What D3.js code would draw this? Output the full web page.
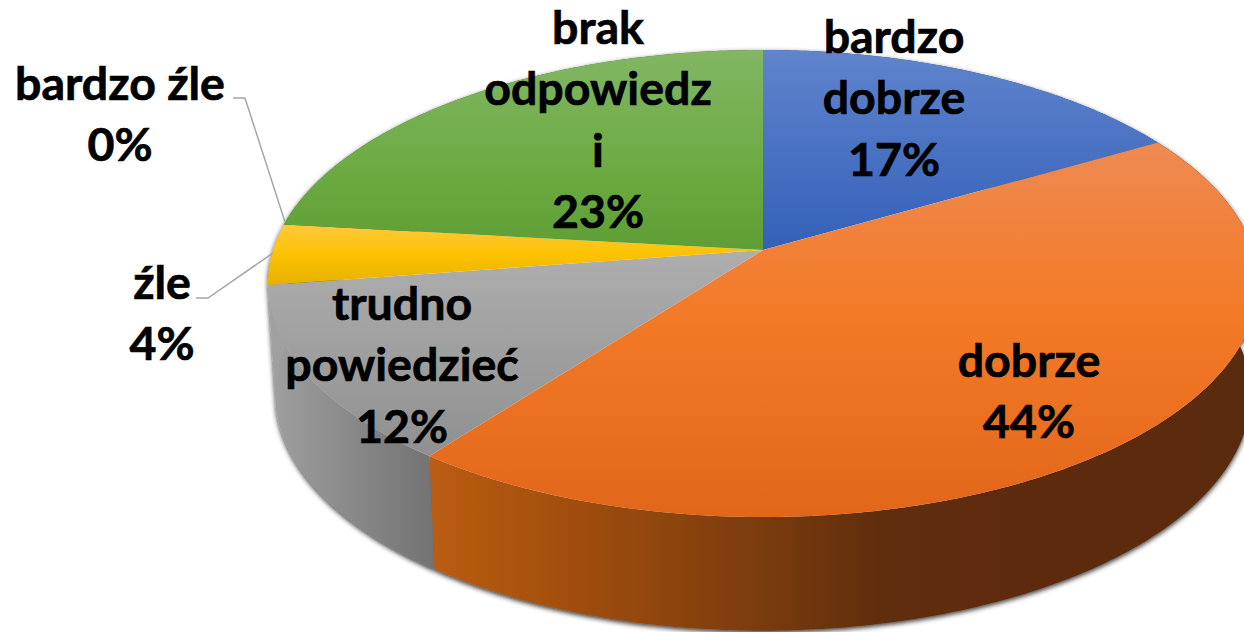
<!DOCTYPE html>
<html><head><meta charset="utf-8">
<style>html,body{margin:0;padding:0;background:#fff;overflow:hidden}svg{display:block}
text{font-family:Lato,"Open Sans",sans-serif;font-weight:700;fill:#000;stroke:#000;stroke-width:.7px;font-size:46.5px;text-anchor:middle}</style>
<script src="https://cdn.jsdelivr.net/npm/d3@7/dist/d3.min.js"></script></head><body>
<script>
const categories = ["bardzo dobrze","dobrze","trudno powiedzieć","źle","bardzo źle","brak odpowiedzi"];
const values = [16.6,43.7,12.3,4.2,0,23.2];
const labelLines = [["bardzo","dobrze"],["dobrze"],["trudno","powiedzieć"],["źle"],["bardzo źle"],["brak","odpowiedz","i"]];

// styling and layout (kept apart from the data)
const topStops = [
 [[0,"#6084cd"],[1,"#3360b9"]],
 [[0,"#ee8a52"],[.45,"#f47a27"],[1,"#e2661a"]],
 [[0,"#aeaeae"],[1,"#909090"]],
 [[0,"#ffc83d"],[.5,"#fdc300"],[1,"#e6b000"]],
 [[0,"#a5a5a5"],[1,"#a5a5a5"]],
 [[0,"#82b663"],[.6,"#6cab42"],[1,"#5f9e34"]]];
const wallStops = [
 [[0,"#2a4a85"],[1,"#2a4a85"]],
 [[0,"#bb5c12"],[.3,"#8c4410"],[.55,"#5f2d0c"],[1,"#5a2a0b"]],
 [[0,"#a0a0a0"],[1,"#727272"]],
 [[0,"#a0a0a0"],[1,"#a0a0a0"]],
 [[0,"#777"],[1,"#777"]],
 [[0,"#3f6a23"],[1,"#3f6a23"]]];
const labelPos = [[894,53],[1029,377],[402,320],[162,299],[120,100],[598,44]];
const leaders = [[[196,298],[208,298],[273,253]],[[233,98],[245,98],[285,222]]];

const W=1244,H=632;
const svg=d3.select("body").append("svg").attr("width",W).attr("height",H).attr("viewBox",[0,0,W,H]);
const defs=svg.append("defs");
const f=defs.append("filter").attr("id","sh").attr("x","-5%").attr("y","-5%").attr("width","110%").attr("height","115%");
f.append("feDropShadow").attr("dx",0).attr("dy",2).attr("stdDeviation",2.5).attr("flood-color","#000").attr("flood-opacity",.8);
function grad(id,stops,horizontal){
  const g=defs.append("linearGradient").attr("id",id).attr("x1",0).attr("y1",0)
    .attr("x2",horizontal?1:0).attr("y2",horizontal?0:1);
  stops.forEach(s=>g.append("stop").attr("offset",s[0]).attr("stop-color",s[1]));
}
topStops.forEach((s,i)=>grad("t"+i,s,false));
wallStops.forEach((s,i)=>grad("w"+i,s,true));

// perspective projection of the unit disc
const cx=763,cy=250,k=-0.1435,ay=228.7,bx=490;
const proj=a=>{const x=Math.sin(a),y=-Math.cos(a),w=1+k*y;return [cx+bx*x/w,cy+ay*y/w];};
const drop=p=>[cx+(p[0]-cx)*0.985,p[1]+111+(p[1]-cy)*0.01];
const line=d3.line();
const arcs=d3.pie().sort(null).value(d=>d)(values);
const arcPts=d=>{const n=Math.max(2,Math.ceil((d.endAngle-d.startAngle)*90));
  return d3.range(n+1).map(i=>proj(d.startAngle+(d.endAngle-d.startAngle)*i/n));};

const nonZero=arcs.filter(d=>d.value>0);
svg.append("g").attr("filter","url(#sh)").selectAll("path").data(nonZero).join("path")
  .attr("d",d=>{const t=arcPts(d);return line(t.concat(t.map(drop).reverse()))+"Z";})
  .attr("fill",d=>`url(#w${d.index})`);
svg.append("g").selectAll("path").data(nonZero).join("path")
  .attr("d",d=>line([[cx,cy],...arcPts(d)])+"Z")
  .attr("fill",d=>`url(#t${d.index})`);

svg.append("g").selectAll("path").data(leaders).join("path")
  .attr("d",line).attr("fill","none").attr("stroke","#a6a6a6").attr("stroke-width",1.5);

const total=d3.sum(values),pct=d3.format(".0%");
const lh=61.3;
svg.append("g").selectAll("text").data(arcs).join("text")
  .attr("transform",(d,i)=>`translate(${labelPos[i]})`)
  .selectAll("tspan").data((d,i)=>[...labelLines[i],pct(d.value/total)]).join("tspan")
  .attr("x",0).attr("y",(d,i)=>i*lh).text(d=>d);
</script></body></html>
